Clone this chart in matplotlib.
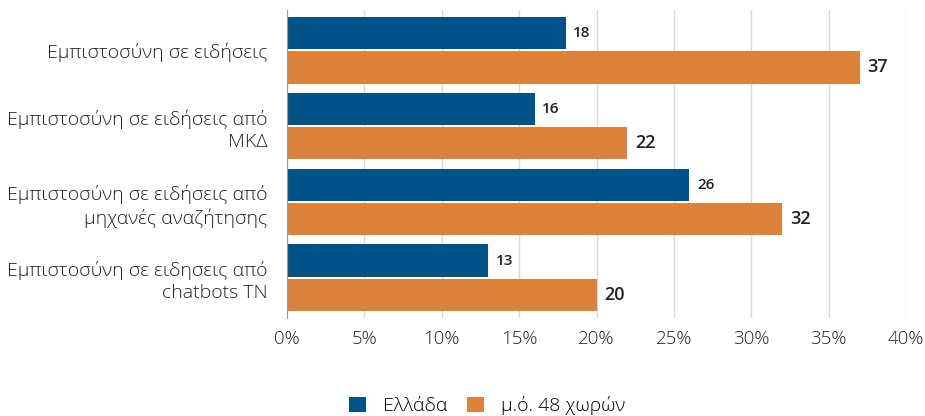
import matplotlib
matplotlib.use("Agg")
import matplotlib.pyplot as plt
import numpy as np

plt.rcParams['font.family'] = ['Open Sans', 'DejaVu Sans']

categories = ["Εμπιστοσύνη σε ειδήσεις",
              "Εμπιστοσύνη σε ειδήσεις από\nΜΚΔ",
              "Εμπιστοσύνη σε ειδήσεις από\nμηχανές αναζήτησης",
              "Εμπιστοσύνη σε ειδησεις από\nchatbots ΤΝ"]
greece = [18, 16, 26, 13]
avg48 = [37, 22, 32, 20]
series_names = ["Ελλάδα", "μ.ό. 48 χωρών"]
xticks = [0, 5, 10, 15, 20, 25, 30, 35, 40]

blue = "#005288"
orange = "#DD823B"
txt = "#222222"

fig = plt.figure(figsize=(9.25, 4.16), dpi=100)
ax = fig.add_axes([0.3103, 0.2356, 0.6692, 0.7404])

y = np.arange(len(categories))
h = 0.43
b1 = ax.barh(y - h / 2 - 0.01, greece, height=h, color=blue, label=series_names[0], zorder=3)
b2 = ax.barh(y + h / 2 + 0.01, avg48, height=h, color=orange, label=series_names[1], zorder=3)

for rect, v in zip(b1, greece):
    ax.text(rect.get_width() + 0.5, rect.get_y() + rect.get_height() / 2, str(v),
            va="center", ha="left", fontsize=11, fontweight="semibold", color=txt)
for rect, v in zip(b2, avg48):
    ax.text(rect.get_width() + 0.5, rect.get_y() + rect.get_height() / 2, str(v),
            va="center", ha="left", fontsize=13, fontweight="semibold", color=txt)

ax.set_ylim(len(categories) - 0.5 + 0.03, -0.5 - 0.03)
ax.set_xlim(0, 40)
ax.set_yticks(y)
ax.set_yticklabels(categories, fontsize=14, color=txt, fontweight="light", linespacing=1.3)
ax.set_xticks(xticks)
ax.set_xticklabels([f"{t}%" for t in xticks], fontsize=13.5, color=txt, fontweight="light")
ax.tick_params(axis="x", length=0, pad=9)
ax.tick_params(axis="y", length=0, pad=14)

ax.grid(axis="x", color="#D9D9D9", linewidth=1, zorder=0)
for s in ["top", "right", "bottom"]:
    ax.spines[s].set_visible(False)
ax.spines["left"].set_color("#999999")
ax.spines["left"].set_zorder(4)

fig.legend(handles=[b1, b2], labels=series_names, loc="lower center",
           bbox_to_anchor=(0.527, -0.04), ncol=2, frameon=False,
           prop={"size": 14, "weight": "light"},
           handlelength=0.85, handleheight=0.85, columnspacing=1.0, handletextpad=0.9)

fig.savefig("out.png", dpi=100)
